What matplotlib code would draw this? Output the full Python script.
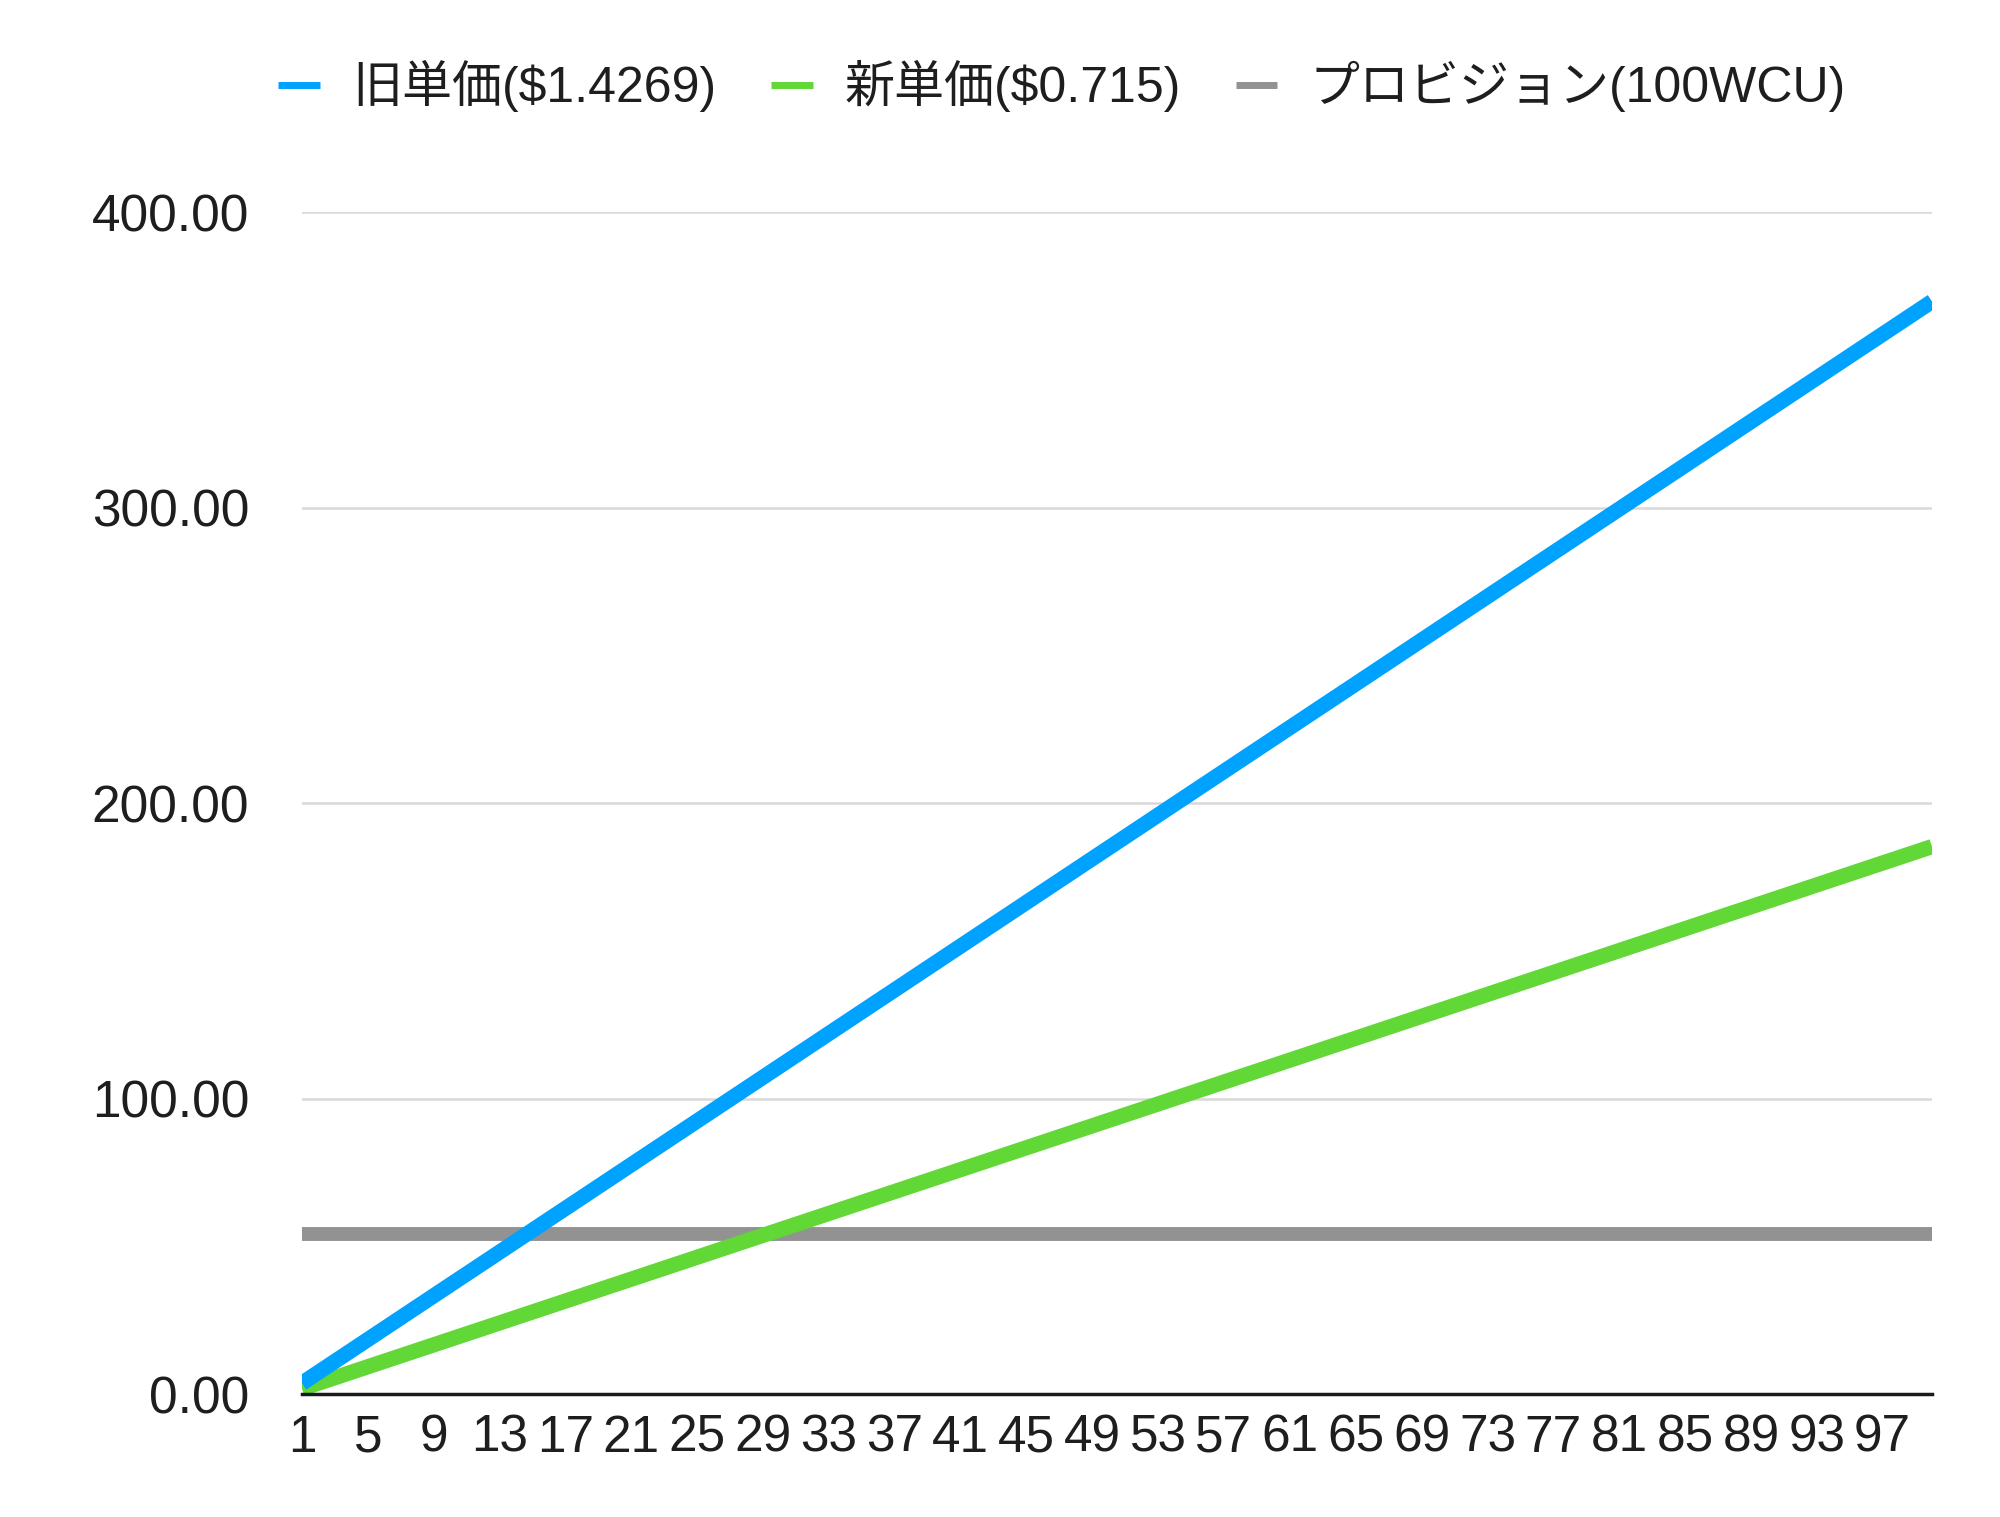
import matplotlib
matplotlib.use("Agg")
import matplotlib.pyplot as plt

plt.rcParams['font.family'] = ['Liberation Sans', 'Noto Sans CJK JP', 'DejaVu Sans']

# writes per second (category axis)
x_cats = list(range(1, 101))

# monthly cost, old unit price ($1.4269)
old_cost = [
    3.70, 7.40, 11.10, 14.79, 18.49, 22.19, 25.89, 29.59, 33.29, 36.99,
    40.68, 44.38, 48.08, 51.78, 55.48, 59.18, 62.87, 66.57, 70.27, 73.97,
    77.67, 81.37, 85.07, 88.76, 92.46, 96.16, 99.86, 103.56, 107.26, 110.96,
    114.65, 118.35, 122.05, 125.75, 129.45, 133.15, 136.84, 140.54, 144.24, 147.94,
    151.64, 155.34, 159.04, 162.73, 166.43, 170.13, 173.83, 177.53, 181.23, 184.93,
    188.62, 192.32, 196.02, 199.72, 203.42, 207.12, 210.81, 214.51, 218.21, 221.91,
    225.61, 229.31, 233.01, 236.70, 240.40, 244.10, 247.80, 251.50, 255.20, 258.90,
    262.59, 266.29, 269.99, 273.69, 277.39, 281.09, 284.78, 288.48, 292.18, 295.88,
    299.58, 303.28, 306.98, 310.67, 314.37, 318.07, 321.77, 325.47, 329.17, 332.87,
    336.56, 340.26, 343.96, 347.66, 351.36, 355.06, 358.75, 362.45, 366.15, 369.85,
]

# monthly cost, new unit price ($0.715)
new_cost = [
    1.85, 3.71, 5.56, 7.41, 9.27, 11.12, 12.97, 14.83, 16.68, 18.53,
    20.39, 22.24, 24.09, 25.95, 27.80, 29.65, 31.51, 33.36, 35.21, 37.07,
    38.92, 40.77, 42.63, 44.48, 46.33, 48.19, 50.04, 51.89, 53.75, 55.60,
    57.45, 59.31, 61.16, 63.01, 64.87, 66.72, 68.57, 70.43, 72.28, 74.13,
    75.99, 77.84, 79.69, 81.55, 83.40, 85.25, 87.11, 88.96, 90.81, 92.67,
    94.52, 96.37, 98.22, 100.08, 101.93, 103.78, 105.64, 107.49, 109.34, 111.20,
    113.05, 114.90, 116.76, 118.61, 120.46, 122.32, 124.17, 126.02, 127.88, 129.73,
    131.58, 133.44, 135.29, 137.14, 139.00, 140.85, 142.70, 144.56, 146.41, 148.26,
    150.12, 151.97, 153.82, 155.68, 157.53, 159.38, 161.24, 163.09, 164.94, 166.80,
    168.65, 170.50, 172.36, 174.21, 176.06, 177.92, 179.77, 181.62, 183.48, 185.33,
]

# provisioned capacity 100 WCU (flat)
provision_cost = [54.17] * 100

labels = ["旧単価($1.4269)", "新単価($0.715)", "プロビジョン(100WCU)"]
colors = ["#00A2FF", "#61D836", "#929292"]

fig = plt.figure(figsize=(20, 15.17), dpi=100)
ax = fig.add_axes([0.151, 0.081, 0.815, 0.779])

ax.plot(x_cats, provision_cost, color=colors[2], lw=10, label=labels[2], solid_capstyle='butt', zorder=3)
ax.plot(x_cats, new_cost, color=colors[1], lw=11, label=labels[1], solid_capstyle='butt', zorder=4)
ax.plot(x_cats, old_cost, color=colors[0], lw=11, label=labels[0], solid_capstyle='butt', zorder=5)

ax.set_xlim(1, 100)
ax.set_ylim(0, 400)
ax.set_yticks([0, 100, 200, 300, 400])
ax.set_yticklabels(["%.2f" % v for v in [0, 100, 200, 300, 400]])
xt = x_cats[::4]
ax.set_xticks(xt)
ax.set_xticklabels([str(v) for v in xt])

for s in ["top", "right", "left"]:
    ax.spines[s].set_visible(False)
ax.spines["bottom"].set_linewidth(2.5)
ax.spines["bottom"].set_color("#1a1a1a")
ax.spines["bottom"].set_zorder(6)

ax.yaxis.grid(True, color="#d9d9d9", lw=1.8)
ax.set_axisbelow(True)
ax.tick_params(axis="y", length=0, pad=38, labelsize=37, labelcolor="#1e1e1e")
ax.tick_params(axis="x", length=0, pad=14, labelsize=37, labelcolor="#1e1e1e")

handles, labs = ax.get_legend_handles_labels()
order = [2, 1, 0]
leg = fig.legend([handles[i] for i in order], [labs[i] for i in order],
                 loc="center", bbox_to_anchor=(0.531, 0.943), ncol=3, frameon=False,
                 fontsize=36, handlelength=0.83, handletextpad=0.64, columnspacing=1.1,
                 labelcolor="#1e1e1e")
for ln in leg.get_lines():
    ln.set_linewidth(5)

fig.savefig("out.png", dpi=100)
